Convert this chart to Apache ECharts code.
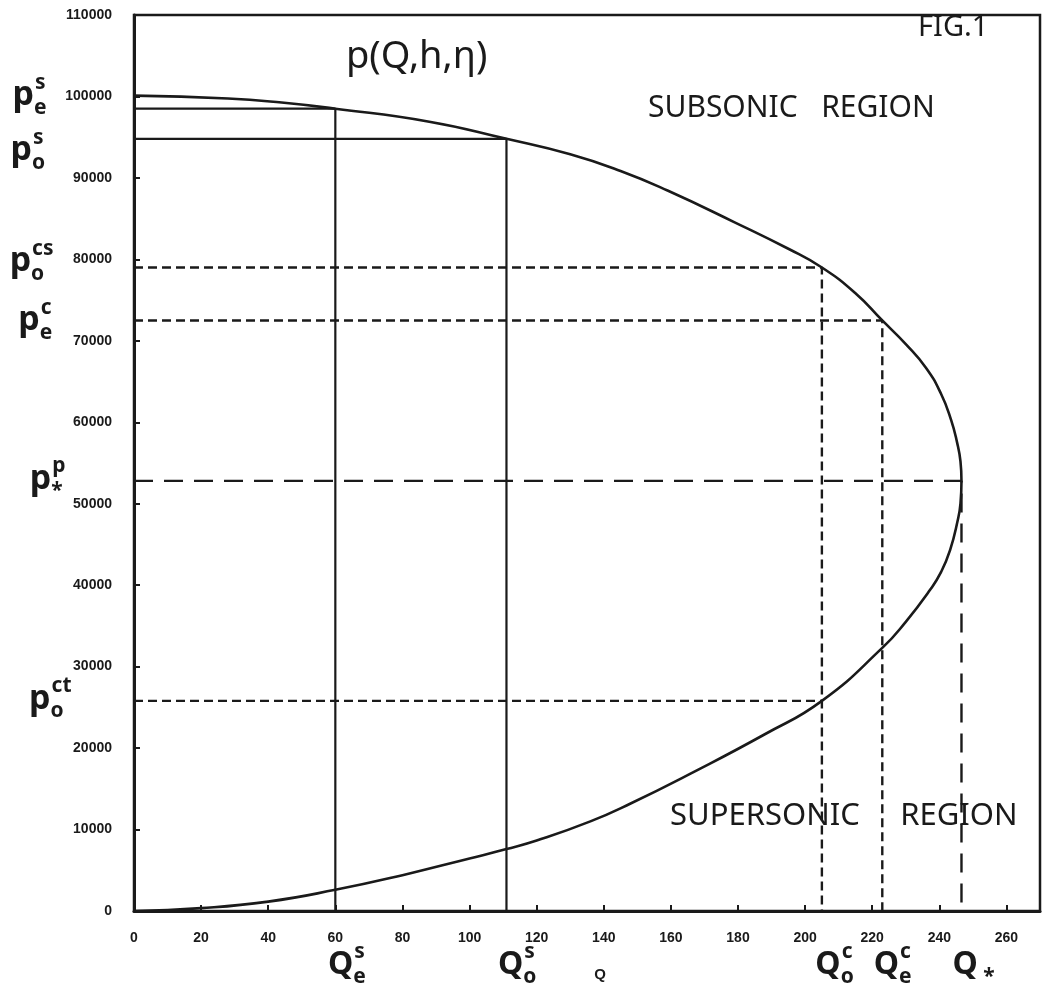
<!DOCTYPE html>
<html>
<head>
<meta charset="utf-8">
<script src="https://cdn.jsdelivr.net/npm/echarts/dist/echarts.min.js"></script>
<style>
  html, body { margin: 0; padding: 0; background: #fff; }
  #chart { width: 1052px; height: 995px; }
</style>
</head>
<body>
<div id="chart"></div>
<script>
// p(Q,h,η): upper (subsonic) branch from Q = 0 out to the choking point
const subsonicBranch = [
  [0, 100100], [28, 99750], [44, 99250], [60, 98500], [88, 96900],
  [111, 94800], [130, 92900], [145, 90850], [159, 88450], [179, 84550],
  [195, 81300], [205, 79000], [215, 75850], [223, 72500], [230, 69600],
  [236, 66700], [240.5, 63500], [243.5, 60300], [245.3, 57500], [246.3, 55200],
  [246.6, 52800]
];
// lower (supersonic) branch from the choking point back to the origin
const supersonicBranch = [
  [246.3, 50000], [245.5, 48000], [243.2, 44300], [240.5, 41600], [237.2, 39400],
  [230, 35500], [223, 32300], [205, 25800], [188, 21700], [166, 16900],
  [148, 13200], [136, 11000], [120, 8650], [111, 7600], [100, 6450],
  [80, 4400], [60, 2600], [40, 1150], [20, 350], [0, 0]
];

// characteristic flow rates
const Q_es = 60, Q_os = 111, Q_oc = 205, Q_ec = 223, Q_star = 246.6;
// characteristic pressures
const p_es = 98500, p_os = 94800, p_ocs = 79000, p_ec = 72500, p_star = 52800, p_oct = 25800;

// axis ranges / tick spacing
const qMax = 270, qStep = 20;
const pMax = 110000, pStep = 10000;

// notation written beside the pressure axis
const pNoteAt  = [p_es, p_os, p_ocs, p_ec, p_star, p_oct];
const pNoteSub = ['e', 'o', 'o', 'e', '*', 'o'];
const pNoteSup = ['s', 's', 'cs', 'c', 'p', 'ct'];
// notation written under the flow axis
const qNoteAt  = [Q_es, Q_os, Q_oc, Q_ec, Q_star];
const qNoteSub = ['e', 'o', 'o', 'e', '*'];
const qNoteSup = ['s', 's', 'c', 'c', ''];

// layout nudges for the notation (pixels)
const GRID_LEFT = 134;
const pNoteRight = [46, 44, 54, 52, 66, 72];
const pNoteDy    = [-13, 12, -6, 0, -2, -2];
const qNoteDx    = [11, 10, 12, 10, 7];

const INK = '#1a1a1a';
const HAND = '"Noto Sans", "DejaVu Sans", sans-serif';
const TICKFONT = '"Liberation Sans", Arial, sans-serif';

const noteRich = {
  b:   { fontFamily: HAND, fontSize: 34, fontWeight: 'bold', lineHeight: 46, color: INK, align: 'left', verticalAlign: 'middle' },
  q:   { fontFamily: HAND, fontSize: 32, fontWeight: 'bold', lineHeight: 46, color: INK, align: 'left', verticalAlign: 'middle' },
  sub: { fontFamily: HAND, fontSize: 21, fontWeight: 'bold', lineHeight: 22, color: INK, align: 'left', verticalAlign: 'bottom', width: 1 },
  sup: { fontFamily: HAND, fontSize: 21, fontWeight: 'bold', lineHeight: 22, color: INK, align: 'left', verticalAlign: 'top' }
};

function guide(name, pts, dash, width) {
  return {
    name: name, type: 'line', data: pts, symbol: 'none', silent: true,
    lineStyle: { color: INK, width: width || 2, type: dash || 'solid' }, z: 2
  };
}

const pNotes = pNoteAt.map(function (p, i) {
  return {
    value: [0, p],
    label: {
      show: true, position: 'left',
      distance: GRID_LEFT - pNoteRight[i],
      offset: [0, pNoteDy[i]],
      formatter: '{b|p}{sub|' + pNoteSub[i] + '}{sup|' + pNoteSup[i] + '}',
      rich: noteRich
    }
  };
});

const qNotes = qNoteAt.map(function (q, i) {
  const sup = qNoteSup[i] ? '{sup|' + qNoteSup[i] + '}' : '';
  const sub = qNoteSup[i] ? '{sub|' + qNoteSub[i] + '}' : '{sup| }{sub|' + qNoteSub[i] + '}';
  return {
    value: [q, 0],
    label: {
      show: true, position: 'bottom', distance: 30,
      offset: [qNoteDx[i], 0],
      formatter: '{q|Q}' + sub + sup,
      rich: noteRich
    }
  };
});

const SHORT_DASH = [9, 5];
const LONG_DASH = [19, 11];

const option = {
  backgroundColor: '#ffffff',
  animation: false,
  grid: {
    left: GRID_LEFT, right: 12, top: 15, bottom: 84,
    show: true, borderColor: INK, borderWidth: 2.5
  },
  xAxis: {
    type: 'value', min: 0, max: qMax, interval: qStep,
    name: 'Q', nameLocation: 'middle', nameGap: 56,
    nameTextStyle: { fontFamily: TICKFONT, fontWeight: 'bold', fontSize: 15, color: INK, padding: [0, 0, 0, 26] },
    axisLine: { lineStyle: { color: INK, width: 3 } },
    axisTick: { inside: true, length: 6, lineStyle: { color: INK, width: 2 } },
    axisLabel: {
      margin: 20, showMaxLabel: false, color: INK,
      fontFamily: TICKFONT, fontWeight: 'bold', fontSize: 14,
      formatter: function (v) { return String(v); }
    },
    splitLine: { show: false }
  },
  yAxis: {
    type: 'value', min: 0, max: pMax, interval: pStep,
    axisLine: { lineStyle: { color: INK, width: 3 } },
    axisTick: { inside: true, length: 6, lineStyle: { color: INK, width: 2 } },
    axisLabel: {
      margin: 22, color: INK,
      fontFamily: TICKFONT, fontWeight: 'bold', fontSize: 14,
      formatter: function (v) { return String(v); }
    },
    splitLine: { show: false }
  },
  series: [
    {
      name: 'p(Q,h,η)', type: 'line', smooth: 0.5, symbol: 'none', silent: true,
      data: subsonicBranch.concat(supersonicBranch),
      lineStyle: { color: INK, width: 2.6 }, z: 3
    },
    guide('pe_s', [[0, p_es], [Q_es, p_es], [Q_es, 0]], 'solid', 2.2),
    guide('po_s', [[0, p_os], [Q_os, p_os], [Q_os, 0]], 'solid', 2.2),
    guide('po_cs', [[0, p_ocs], [Q_oc, p_ocs], [Q_oc, 0]], SHORT_DASH, 2.4),
    guide('pe_c', [[0, p_ec], [Q_ec, p_ec], [Q_ec, 0]], SHORT_DASH, 2.4),
    guide('p_star', [[0, p_star], [Q_star, p_star], [Q_star, 0]], LONG_DASH, 2.4),
    guide('po_ct', [[0, p_oct], [Q_oc, p_oct]], SHORT_DASH, 2.4),
    {
      name: 'pressure notation', type: 'scatter', symbolSize: 1, silent: true,
      itemStyle: { color: 'rgba(0,0,0,0)', opacity: 1 }, data: pNotes, z: 5
    },
    {
      name: 'flow notation', type: 'scatter', symbolSize: 1, silent: true,
      itemStyle: { color: 'rgba(0,0,0,0)', opacity: 1 }, data: qNotes, z: 5
    }
  ],
  graphic: [
    { type: 'text', left: 346, top: 38,
      style: { text: 'p(Q,h,η)', font: '38px ' + HAND, fill: INK } },
    { type: 'text', left: 918, top: 13,
      style: { text: 'FIG.1', font: '29px ' + HAND, fill: INK } },
    { type: 'text', left: 648, top: 93,
      style: { text: 'SUBSONIC   REGION', font: '30px ' + HAND, fill: INK } },
    { type: 'text', left: 670, top: 801,
      style: { text: 'SUPERSONIC     REGION', font: '31px ' + HAND, fill: INK } }
  ]
};

const chart = echarts.init(document.getElementById('chart'), null, { renderer: 'canvas' });
chart.setOption(option);
</script>
</body>
</html>
